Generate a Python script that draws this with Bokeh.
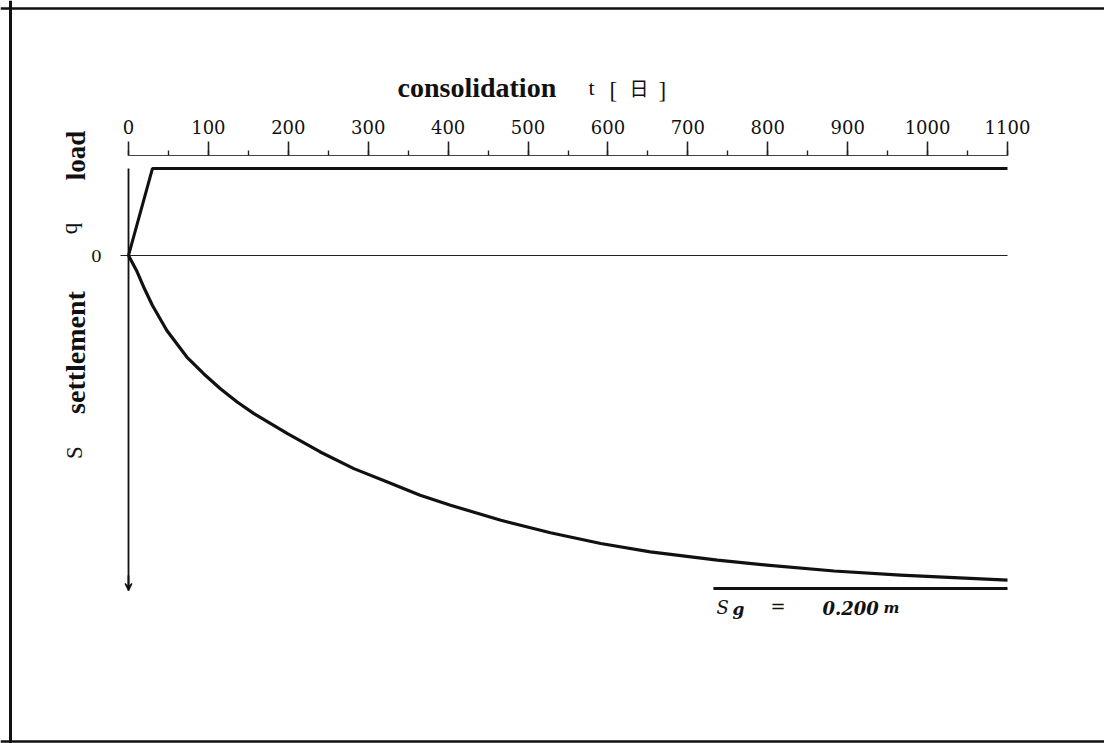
import numpy as np
from bokeh.plotting import figure
from bokeh.models import (Range1d, LinearAxis, SingleIntervalTicker, Label, Span,
                          ColumnDataSource, Arrow, VeeHead)
from bokeh.embed import file_html
from bokeh.resources import INLINE

# ---------------- data ----------------
load_days = [0, 30, 1100]
load_q = [0.0, 1.0, 1.0]            # load q (normalised)

settle_days = [0, 10, 20, 30, 48, 73, 94, 115, 136, 157, 178, 199, 240, 282,
               324, 365, 403, 466, 528, 591, 653, 737, 799, 883, 966, 1100]
settle_s = [0.0, 0.009, 0.020, 0.030, 0.045, 0.061, 0.071, 0.080, 0.088, 0.095,
            0.101, 0.107, 0.118, 0.128, 0.136, 0.144, 0.150, 0.159, 0.1665,
            0.173, 0.178, 0.183, 0.186, 0.1895, 0.192, 0.195]

sg_value = 0.200                     # final settlement Sg [m]
sg_days = [732, 1100]
t_max = 1100

# ---------------- geometry ----------------
W, H = 1104, 743
OX, OY = 0, 0
PX0, PX1 = 128, 1007                 # pixel of day 0 and day 1100
KX = (PX1 - PX0) / t_max
PY0 = 255                            # zero line
KS = 333 / 0.2                       # px per metre settlement
KQ = 87                              # px per unit load

def X(px):
    return (px - PX0) / KX

def S(py):
    return (py - PY0) / KS

x_range = Range1d(X(OX), X(OX + W))
y_range = Range1d(S(OY + H), S(OY))   # flipped: settlement grows downward

p = figure(width=W, height=H, x_range=x_range, y_range=y_range,
           output_backend="svg", toolbar_location=None,
           x_axis_location=None, y_axis_location=None,
           min_border=0, min_border_left=0, min_border_right=0,
           min_border_top=0, min_border_bottom=0)
p.outline_line_color = None
p.background_fill_color = "white"
p.border_fill_color = "white"
p.grid.visible = False

p.extra_y_ranges = {"load": Range1d((PY0 - (OY + H)) / KQ, (PY0 - OY) / KQ)}

# ---------------- top time axis ----------------
ax = LinearAxis(fixed_location=S(155),
                ticker=SingleIntervalTicker(interval=100, num_minor_ticks=2),
                bounds=(0, t_max))
ax.axis_line_color = "#444444"
ax.axis_line_width = 1.2
ax.major_tick_line_color = "#222222"
ax.major_tick_line_width = 1.6
ax.major_tick_out = 14
ax.major_tick_in = 0
ax.minor_tick_line_color = "#222222"
ax.minor_tick_line_width = 1.4
ax.minor_tick_out = 5
ax.minor_tick_in = 0
ax.major_label_text_font = "DejaVu Serif"
ax.major_label_text_font_size = "18px"
ax.major_label_text_color = "#111111"
ax.major_label_standoff = 8
p.add_layout(ax, "above")

# ---------------- lines ----------------
p.line(x=[X(120), t_max], y=[0, 0], line_color="#222222", line_width=1)
p.line(x=[0, 0], y=[S(168), S(590)], line_color="#111111", line_width=1.8)
p.add_layout(Arrow(end=VeeHead(size=7, line_color="#111111", line_width=1.2),
                   x_start=0, y_start=S(575), x_end=0, y_end=S(590),
                   line_color="#111111", line_width=1.8))
p.line(x=load_days, y=load_q, y_range_name="load", line_color="#111111",
       line_width=3)
src = ColumnDataSource(dict(t=settle_days, s=settle_s))
p.line(x="t", y="s", source=src, line_color="#111111", line_width=3.2,
       line_join="round")
p.line(x=sg_days, y=[sg_value, sg_value], line_color="#111111", line_width=3)

# ---------------- border ----------------
p.add_layout(Span(location=X(10), dimension="height", line_color="#111111",
                  line_width=3))
p.add_layout(Span(location=S(8), dimension="width", line_color="#111111",
                  line_width=2.5))
p.add_layout(Span(location=S(741), dimension="width", line_color="#111111",
                  line_width=2.5))

# ---------------- texts ----------------
def lab(text, px, py, font="Liberation Serif", size="16px", style="normal",
        align="left", baseline="alphabetic", angle=0.0):
    p.add_layout(Label(x=X(px), y=S(py), text=text, text_font=font,
                       text_font_size=size, text_font_style=style,
                       text_align=align, text_baseline=baseline, angle=angle,
                       text_color="#111111"))

# title
lab("consolidation", 397, 87, size="28px", style="bold")
lab("t", 588, 87, size="22px")
lab("[", 609, 90, size="23px")
lab("日", 629, 87, font="Noto Sans CJK JP", size="19px")
lab("]", 658, 90, size="23px")

# left labels (rotated)
lab("load", 75, 155, size="27px", style="bold", align="center", angle=np.pi / 2)
lab("q", 69, 228, size="23px", align="center", angle=np.pi / 2)
lab("settlement", 75, 352, size="28px", style="bold", align="center",
    angle=np.pi / 2)
lab("S", 74, 452, size="23px", align="center", angle=np.pi / 2)
lab("0", 96, 255, font="DejaVu Serif", size="17px", align="center",
    baseline="middle")

# Sg annotation
lab("S", 716, 607, font="DejaVu Serif", size="18px", style="italic")
lab("g", 732, 608, font="DejaVu Serif", size="17px", style="bold italic")
lab("=", 770, 606, font="DejaVu Serif", size="18px", style="italic")
lab("0.200", 822, 607, font="DejaVu Serif", size="18px", style="bold italic")
lab("m", 883, 607, font="DejaVu Serif", size="15px", style="bold italic")

open("out.html", "w").write(file_html(p, INLINE))
